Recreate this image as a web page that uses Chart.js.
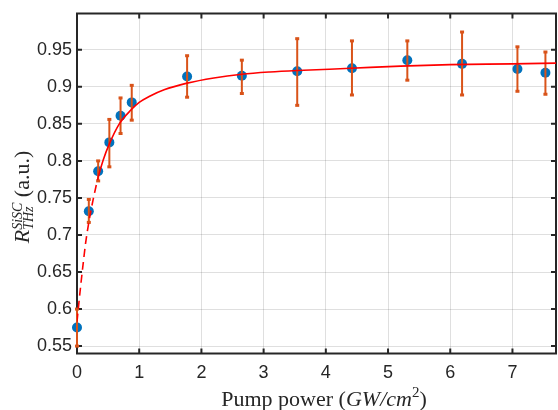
<!DOCTYPE html>
<html>
<head>
<meta charset="utf-8">
<script src="https://cdn.jsdelivr.net/npm/chart.js@4.4.0/dist/chart.umd.min.js"></script>
<style>
    html, body { margin: 0; padding: 0; background: #fff; overflow: hidden; }
    #wrap { width: 558px; height: 410px; overflow: hidden; }
</style>
</head>
<body>
<div id="wrap"><canvas id="pumpChart" width="561" height="410"></canvas></div>
<script>
// measured points
const pumpPower = [0, 0.19, 0.34, 0.52, 0.70, 0.88, 1.77, 2.65, 3.54, 4.42, 5.31, 6.19, 7.08, 7.53];
const reflectance = [0.575, 0.732, 0.786, 0.825, 0.861, 0.879, 0.914, 0.915, 0.921, 0.925, 0.936, 0.931, 0.924, 0.919];
const errLower = [0.550, 0.717, 0.773, 0.792, 0.837, 0.855, 0.886, 0.891, 0.875, 0.889, 0.909, 0.889, 0.894, 0.890];
const errUpper = [0.600, 0.748, 0.800, 0.856, 0.885, 0.902, 0.942, 0.936, 0.965, 0.962, 0.962, 0.974, 0.954, 0.947];

// fit curve
const fitX = [0, 0.03, 0.06, 0.1, 0.14, 0.18, 0.22, 0.26, 0.34, 0.42, 0.52, 0.68, 0.87, 1.0, 1.16, 1.4, 1.77, 2.2, 2.65, 3.1, 3.54, 4.4, 5.2, 6.0, 7.0, 7.7];
const fitY = [0.583, 0.608, 0.632, 0.662, 0.690, 0.712, 0.731, 0.748, 0.778, 0.801, 0.823, 0.850, 0.869, 0.879, 0.887, 0.896, 0.905, 0.912, 0.917, 0.920, 0.922, 0.925, 0.928, 0.930, 0.931, 0.932];
const dashedUntil = 0.34;

const xTicks = [0, 1, 2, 3, 4, 5, 6, 7];
const yTicks = [0.55, 0.6, 0.65, 0.7, 0.75, 0.8, 0.85, 0.9, 0.95];
const yTickLabels = ["0.55", "0.6", "0.65", "0.7", "0.75", "0.8", "0.85", "0.9", "0.95"];

const axisColor = "#262626";
const serif = "'Liberation Serif', 'DejaVu Serif', serif";

const framePlugin = {
    id: "frame",
    beforeDatasetsDraw: function (chart) {
        const ctx = chart.ctx;
        const a = chart.chartArea;
        const xs = chart.scales.x, ys = chart.scales.y;
        ctx.save();
        ctx.strokeStyle = axisColor;
        ctx.lineWidth = 2;
        ctx.strokeRect(a.left, a.top, a.right - a.left, a.bottom - a.top);
        // inward ticks
        const tl = 5;
        ctx.beginPath();
        xTicks.forEach(function (v) {
            const px = xs.getPixelForValue(v);
            ctx.moveTo(px, a.bottom); ctx.lineTo(px, a.bottom - tl);
            ctx.moveTo(px, a.top); ctx.lineTo(px, a.top + tl);
        });
        yTicks.forEach(function (v) {
            const py = ys.getPixelForValue(v);
            ctx.moveTo(a.left, py); ctx.lineTo(a.left + tl, py);
            ctx.moveTo(a.right, py); ctx.lineTo(a.right - tl, py);
        });
        ctx.stroke();
        ctx.restore();
    },
    afterDatasetDraw: function (chart, args) {
        if (args.index !== 1) return;
        const ctx = chart.ctx;
        const xs = chart.scales.x, ys = chart.scales.y;
        ctx.save();
        ctx.strokeStyle = "#D95319";
        ctx.fillStyle = "#D95319";
        ctx.lineWidth = 2;
        for (let i = 0; i < pumpPower.length; i++) {
            const px = xs.getPixelForValue(pumpPower[i]);
            const top = ys.getPixelForValue(errUpper[i]);
            const bot = ys.getPixelForValue(errLower[i]);
            ctx.beginPath();
            ctx.moveTo(px, top);
            ctx.lineTo(px, bot);
            ctx.stroke();
            ctx.fillRect(px - 2, top - 1.5, 4, 3);
            ctx.fillRect(px - 2, bot - 1.5, 4, 3);
        }
        ctx.restore();
    },
    afterDraw: function (chart) {
        const ctx = chart.ctx;
        ctx.save();
        // x axis title
        ctx.fillStyle = axisColor;
        ctx.textBaseline = "alphabetic";
        const parts = [
            { t: "Pump power (", f: "22px " + serif, dy: 0 },
            { t: "GW/cm", f: "italic 22px " + serif, dy: 0 },
            { t: "2", f: "15px " + serif, dy: -9 },
            { t: ")", f: "22px " + serif, dy: 0 }
        ];
        let w = 0;
        parts.forEach(function (p) { ctx.font = p.f; p.w = ctx.measureText(p.t).width; w += p.w; });
        let x0 = 324 - w / 2;
        parts.forEach(function (p) {
            ctx.font = p.f;
            ctx.fillText(p.t, x0, 406 + p.dy);
            x0 += p.w;
        });

        // y axis title
        ctx.translate(29, 197);
        ctx.rotate(-Math.PI / 2);
        ctx.font = "italic 22px " + serif;
        const rW = ctx.measureText("R").width;
        ctx.font = "italic 14px " + serif;
        const subW = ctx.measureText("THz").width;
        const supW = ctx.measureText("SiSC").width;
        ctx.font = "22px " + serif;
        const restW = ctx.measureText(" (a.u.)").width;
        const total = rW + Math.max(subW, supW) + restW;
        let yx = -total / 2;
        ctx.font = "italic 22px " + serif;
        ctx.fillText("R", yx, 0);
        yx += rW;
        ctx.font = "italic 14px " + serif;
        ctx.fillText("SiSC", yx, -7);
        ctx.fillText("THz", yx, 4);
        yx += Math.max(subW, supW);
        ctx.font = "22px " + serif;
        ctx.fillText(" (a.u.)", yx, 0);
        ctx.restore();
    }
};

new Chart(document.getElementById("pumpChart"), {
    type: "scatter",
    data: {
        datasets: [
            {
                type: "line",
                label: "fit",
                data: fitX.map(function (x, i) { return { x: x, y: fitY[i] }; }),
                borderColor: "#ff0000",
                borderWidth: 1.6,
                pointRadius: 0,
                fill: false,
                cubicInterpolationMode: "monotone",
                segment: {
                    borderDash: function (c) { return c.p1.parsed.x <= dashedUntil ? [8, 5] : undefined; }
                },
                order: 0
            },
            {
                label: "data",
                data: pumpPower.map(function (x, i) { return { x: x, y: reflectance[i] }; }),
                backgroundColor: "#0072BD",
                borderWidth: 0,
                pointRadius: 5,
                clip: false,
                order: 1
            }
        ]
    },
    options: {
        responsive: false,
        animation: false,
        events: [],
        layout: { padding: { top: 13.5, right: 0, left: 0, bottom: 0 } },
        plugins: {
            legend: { display: false },
            tooltip: { enabled: false }
        },
        scales: {
            x: {
                type: "linear",
                min: 0,
                max: 7.7,
                afterBuildTicks: function (s) { s.ticks = xTicks.map(function (v) { return { value: v }; }); },
                afterFit: function (s) { s.height = 56.5; s.paddingLeft = 0; s.paddingRight = 0; },
                grid: { color: "rgba(38,38,38,0.15)", drawTicks: false, lineWidth: 1 },
                border: { display: false },
                ticks: {
                    color: axisColor,
                    padding: 9,
                    font: { family: "'Liberation Sans', Arial, sans-serif", size: 18 },
                    maxRotation: 0
                }
            },
            y: {
                type: "linear",
                min: 0.54,
                max: 0.999,
                afterBuildTicks: function (s) { s.ticks = yTicks.map(function (v) { return { value: v }; }); },
                afterFit: function (s) { s.width = 77; s.paddingTop = 0; s.paddingBottom = 0; },
                grid: { color: "rgba(38,38,38,0.15)", drawTicks: false, lineWidth: 1 },
                border: { display: false },
                ticks: {
                    color: axisColor,
                    padding: 5,
                    font: { family: "'Liberation Sans', Arial, sans-serif", size: 18 },
                    callback: function (v, i) { return yTickLabels[i]; }
                }
            }
        }
    },
    plugins: [framePlugin]
});
</script>
</body>
</html>
